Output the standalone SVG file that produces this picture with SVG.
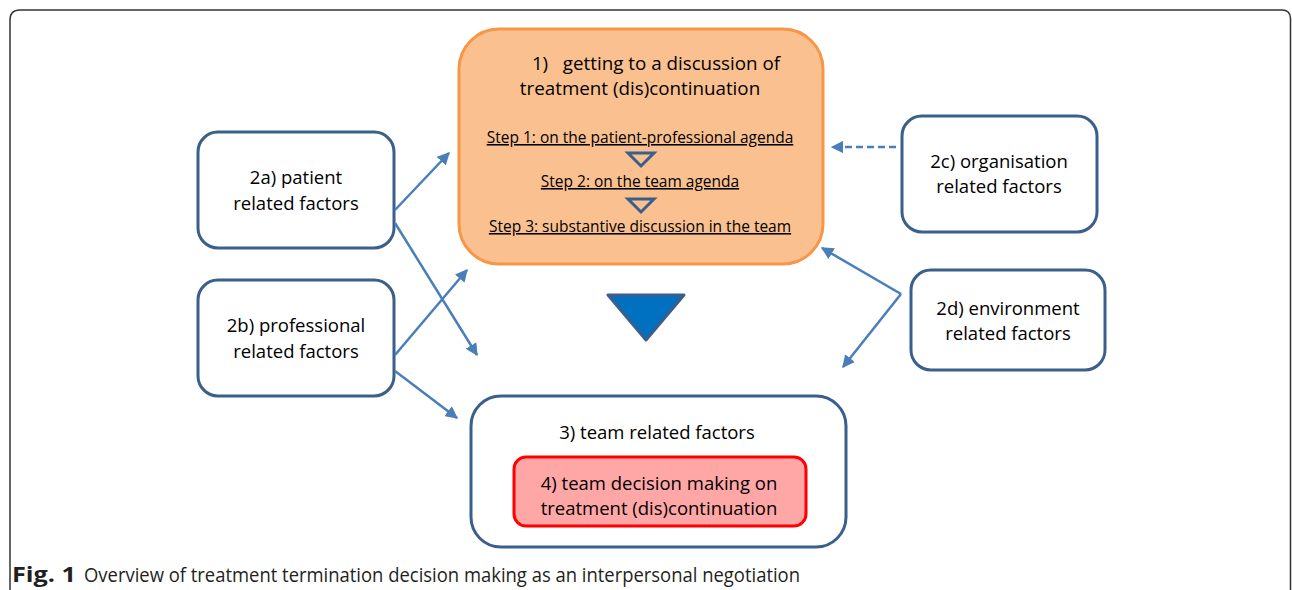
<svg xmlns="http://www.w3.org/2000/svg" width="1292" height="590" viewBox="0 0 1292 590">
<defs>
<style>
.box{fill:#ffffff;stroke:#3A5F8D;stroke-width:3}
.t{font-family:"Open Sans","Noto Sans",sans-serif;font-size:18.5px;fill:#000;text-anchor:middle}
.tt{font-family:"Open Sans","Noto Sans",sans-serif;font-size:18.8px;fill:#000;text-anchor:middle}
.st{font-family:"Open Sans","Noto Sans",sans-serif;font-size:15.5px;fill:#000;text-anchor:middle;text-decoration:underline}
.c{stroke:#4A7EBB;stroke-width:2.5;fill:none}
.cap{font-family:"Open Sans","Liberation Sans",sans-serif;font-size:20.5px;fill:#231F20}
.stri{fill:none;stroke:#3A5F8D;stroke-width:3}
</style>
<marker id="ah" viewBox="0 0 10 10" refX="9" refY="5" markerWidth="5" markerHeight="5" orient="auto" markerUnits="strokeWidth">
<path d="M0,0 L10,5 L0,10 z" fill="#4A7EBB"/>
</marker>
</defs>
<rect width="1292" height="590" fill="#ffffff"/>
<path d="M10,590 V20 Q10,10 20,10 H1282 Q1290,10 1290.5,18 V590" fill="none" stroke="#333333" stroke-width="1.5"/>

<g id="n1">
<rect x="459" y="29" width="364" height="235" rx="40" fill="#FAC090" stroke="#F79646" stroke-width="3"/>
<text class="tt" x="656" y="70">1)&#160;&#160; getting to a discussion of</text>
<text class="tt" x="640" y="95">treatment (dis)continuation</text>
<text class="st" x="640" y="143">Step 1: on the patient-professional agenda</text>
<path class="stri" d="M628,153 L654,153 L641,166 z"/>
<text class="st" x="640" y="187">Step 2: on the team agenda</text>
<path class="stri" d="M628,199 L654,199 L641,212 z"/>
<text class="st" x="640" y="232">Step 3: substantive discussion in the team</text>
</g>

<g id="n2a">
<rect class="box" x="198" y="132" width="196" height="116" rx="20"/>
<text class="t" x="296" y="184">2a) patient</text>
<text class="t" x="296" y="210">related factors</text>
</g>

<g id="n2b">
<rect class="box" x="198" y="280" width="196" height="116" rx="20"/>
<text class="t" x="296" y="332">2b) professional</text>
<text class="t" x="296" y="358">related factors</text>
</g>

<g id="n2c">
<rect class="box" x="902" y="116" width="195" height="116" rx="20"/>
<text class="t" x="999" y="168">2c) organisation</text>
<text class="t" x="999" y="193">related factors</text>
</g>

<g id="n2d">
<rect class="box" x="911" y="270" width="194" height="100" rx="20"/>
<text class="t" x="1008" y="315">2d) environment</text>
<text class="t" x="1008" y="340">related factors</text>
</g>

<g id="tri">
<path d="M608,295 L684,295 L646,340 z" fill="#0070C0" stroke="#3A5F8D" stroke-width="3" stroke-linejoin="round"/>
</g>

<g id="n3">
<rect class="box" x="471" y="396" width="375" height="151" rx="30"/>
<text class="t" x="657" y="439">3) team related factors</text>
</g>

<g id="n4">
<rect x="514" y="457" width="292" height="69" rx="12" fill="#FFA7A7" stroke="#FF0000" stroke-width="3"/>
<text class="t" x="659" y="490">4) team decision making on</text>
<text class="t" x="659" y="515">treatment (dis)continuation</text>
</g>

<g id="connectors">
<line class="c" x1="395" y1="210" x2="449" y2="153" marker-end="url(#ah)"/>
<line class="c" x1="395" y1="223" x2="477" y2="355" marker-end="url(#ah)"/>
<line class="c" x1="395" y1="355" x2="467" y2="270" marker-end="url(#ah)"/>
<line class="c" x1="395" y1="371" x2="457" y2="418" marker-end="url(#ah)"/>
<line class="c" x1="896" y1="147" x2="832" y2="147" stroke-dasharray="7,4" marker-end="url(#ah)"/>
<line class="c" x1="901" y1="294" x2="822" y2="248" marker-end="url(#ah)"/>
<line class="c" x1="901" y1="294" x2="843" y2="367" marker-end="url(#ah)"/>
</g>

<text class="cap" x="12" y="582"><tspan font-weight="bold" textLength="64" lengthAdjust="spacingAndGlyphs">Fig. 1</tspan><tspan x="84" textLength="716" lengthAdjust="spacingAndGlyphs">Overview of treatment termination decision making as an interpersonal negotiation</tspan></text>
</svg>
